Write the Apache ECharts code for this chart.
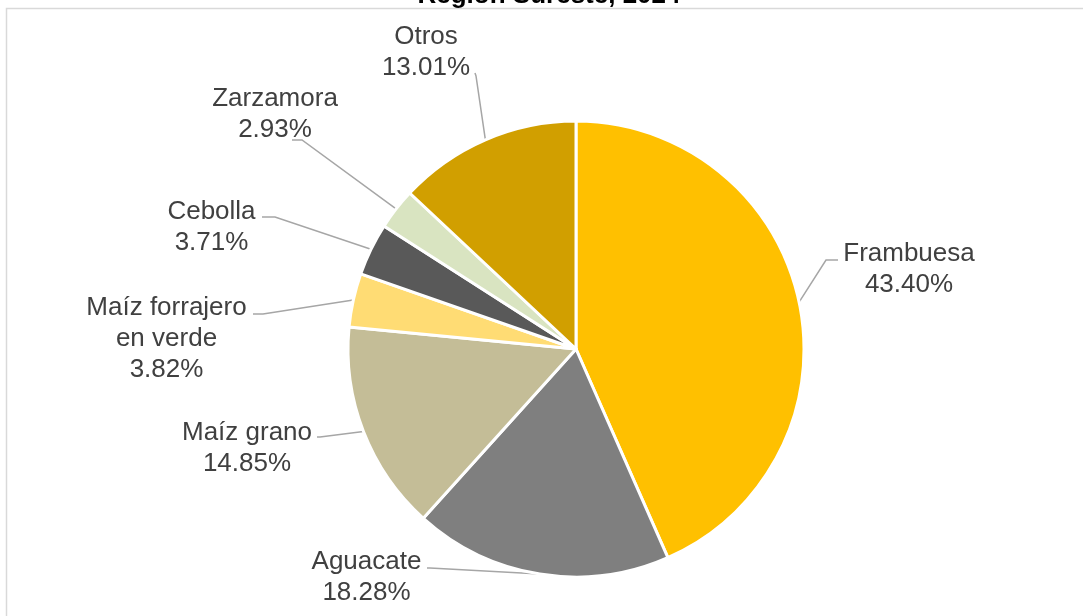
<!DOCTYPE html>
<html>
<head>
<meta charset="utf-8">
<script src="https://cdn.jsdelivr.net/npm/echarts@6/dist/echarts.min.js"></script>
<style>
html,body{margin:0;padding:0;background:#fff;}
#chart{width:1083px;height:616px;}
</style>
</head>
<body>
<div id="chart"></div>
<script>
const categories = ['Frambuesa', 'Aguacate', 'Maíz grano', 'Maíz forrajero en verde', 'Cebolla', 'Zarzamora', 'Otros'];
const shares = [43.40, 18.28, 14.85, 3.82, 3.71, 2.93, 13.01];
const sliceColors = ['#FFC000', '#7F7F7F', '#C4BD97', '#FFDC74', '#595959', '#D9E4C1', '#D19F00'];
const titleText = 'Región Sureste, 2024';

// label placement (text block centre) and leader line bend/end points
const labelCentres = [[909, 269], [366.5, 577], [247, 448], [166.5, 339], [211.5, 227], [275, 114.5], [426, 52.5]];
const leaderBends = [[826, 260], [430, 568], [320, 437], [263, 314], [275, 217], [302, 140], [476, 76]];
const leaderEnds = [[838, 260], [427, 568], [317, 437], [253, 314], [262, 217], [292, 140], [475, 73]];

const chart = echarts.init(document.getElementById('chart'));
const data = categories.map((c, i) => ({ name: c, value: shares[i], itemStyle: { color: sliceColors[i] } }));

chart.setOption({
  animation: false,
  backgroundColor: '#ffffff',
  graphic: [
    {
      type: 'rect',
      shape: { x: 6.5, y: 8.5, width: 1200, height: 700 },
      style: { fill: 'none', stroke: '#D9D9D9', lineWidth: 1.5 },
      z: 1
    },
    {
      type: 'text',
      x: 549, y: -4,
      style: {
        text: titleText,
        font: 'bold 26px "Liberation Sans", Arial, sans-serif',
        fill: '#000000',
        align: 'center',
        verticalAlign: 'middle'
      },
      z: 2
    }
  ],
  series: [{
    type: 'pie',
    center: [576, 349],
    radius: 228,
    startAngle: 90,
    clockwise: true,
    data: data,
    itemStyle: { borderColor: '#ffffff', borderWidth: 3 },
    label: {
      show: true,
      position: 'outside',
      color: '#404040',
      fontFamily: '"Liberation Sans", Arial, sans-serif',
      fontSize: 26,
      lineHeight: 31,
      align: 'center',
      formatter: p => {
        const name = p.name.replace('forrajero ', 'forrajero\n');
        return name + '\n' + p.value.toFixed(2) + '%';
      }
    },
    labelLine: {
      show: true,
      length: 20,
      length2: 10,
      smooth: false,
      lineStyle: { color: '#A6A6A6', width: 1.5 }
    },
    emphasis: { disabled: true },
    labelLayout: function (params) {
      const i = params.dataIndex;
      const p0 = params.labelLinePoints ? params.labelLinePoints[0] : null;
      const res = {
        x: labelCentres[i][0],
        y: labelCentres[i][1],
        align: 'center',
        verticalAlign: 'middle'
      };
      if (p0) {
        res.labelLinePoints = [p0, leaderBends[i], leaderEnds[i]];
      }
      return res;
    }
  }]
});
</script>
</body>
</html>
